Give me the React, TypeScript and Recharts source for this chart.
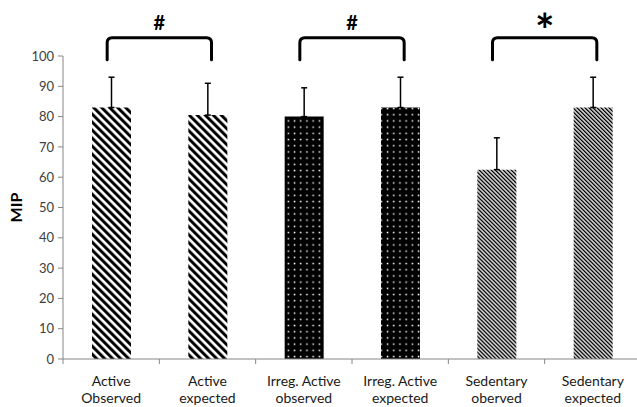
import React from "react";
import {
  Bar,
  BarChart,
  Cell,
  ErrorBar,
  ReferenceLine,
  XAxis,
  YAxis,
} from "recharts";

// values
const categories = [
  "Active\nObserved",
  "Active\nexpected",
  "Irreg. Active\nobserved",
  "Irreg. Active\nexpected",
  "Sedentary\noberved",
  "Sedentary\nexpected",
];
const mipMeans = [83, 80.5, 80, 83, 62.5, 83];
const mipSdUpper = [10, 10.5, 9.5, 10, 10.5, 10];
const yTicks = [0, 10, 20, 30, 40, 50, 60, 70, 80, 90, 100];

// significance brackets: pairs of category indexes and their mark
const bracketPairs = [
  [0, 1],
  [2, 3],
  [4, 5],
];
const bracketMarks = ["#", "#", "*"];
const bracketLevel = 106;

const barFills = [
  "url(#stripeWide)",
  "url(#stripeWide)",
  "url(#dots)",
  "url(#dots)",
  "url(#stripeFine)",
  "url(#stripeFine)",
];

const CHART_W = 642;
const CHART_H = 407;
const Y_AXIS_W = 63;
const MARGIN = { top: 56, right: 1, bottom: 0, left: 0 };
const AXIS_GREY = "#868686";
const FONT = "Lato, 'Open Sans', sans-serif";

const data = categories.map((name, i) => ({
  name,
  mip: mipMeans[i],
  err: [0, mipSdUpper[i]],
}));

const band = (CHART_W - MARGIN.left - MARGIN.right - Y_AXIS_W) / categories.length;

const CategoryTick = (props: any) => {
  const { x, y, payload, index } = props;
  const lines = String(payload.value).split("\n");
  const isLast = index === categories.length - 1;
  return (
    <g>
      <line x1={x - band / 2} x2={x - band / 2} y1={y} y2={y + 5} stroke={AXIS_GREY} />
      {isLast && (
        <line x1={x + band / 2} x2={x + band / 2} y1={y} y2={y + 5} stroke={AXIS_GREY} />
      )}
      <text
        x={x}
        y={y}
        textAnchor="middle"
        fontFamily={FONT}
        fontSize={14}
        fill="#1a1a1a"
      >
        <tspan x={x} dy={27}>
          {lines[0]}
        </tspan>
        <tspan x={x} dy={17}>
          {lines[1]}
        </tspan>
      </text>
    </g>
  );
};

const Bracket = (props: any) => {
  const { y1 } = props;
  const x1 = props.x1 - 4;
  const x2 = props.x2 + 4;
  const drop = 22;
  const r = 5;
  const d = `M${x1},${y1 + drop} L${x1},${y1 + r} Q${x1},${y1} ${x1 + r},${y1} L${x2 - r},${y1} Q${x2},${y1} ${x2},${y1 + r} L${x2},${y1 + drop}`;
  return <path d={d} fill="none" stroke="#000" strokeWidth={3} strokeLinecap="round" />;
};

const MipLabel = (props: any) => {
  const vb = props.viewBox || {};
  const cx = (vb.x ?? 0) + 15;
  const cy = (vb.y ?? 0) + (vb.height ?? 0) / 2;
  return (
    <text
      x={cx}
      y={cy}
      transform={`rotate(-90 ${cx} ${cy})`}
      textAnchor="middle"
      dominantBaseline="central"
      fontFamily={FONT}
      fontWeight="bold"
      fontSize={16}
      fill="#000"
    >
      MIP
    </text>
  );
};

export default function App() {
  return (
    <div style={{ width: 637, height: CHART_H, overflow: "hidden", background: "#fff" }}>
      <style>{"body{margin:0}"}</style>
      <svg width={0} height={0} style={{ position: "absolute" }}>
        <defs>
          <pattern
            id="stripeWide"
            patternUnits="userSpaceOnUse"
            width={5.66}
            height={5.66}
            patternTransform="rotate(-45)"
          >
            <rect width={5.66} height={5.66} fill="#fff" />
            <rect width={3} height={5.66} fill="#000" />
          </pattern>
          <pattern
            id="stripeFine"
            patternUnits="userSpaceOnUse"
            width={2.83}
            height={2.83}
            patternTransform="rotate(-45)"
          >
            <rect width={2.83} height={2.83} fill="#fff" />
            <rect width={1.45} height={2.83} fill="#000" />
          </pattern>
          <pattern id="dots" patternUnits="userSpaceOnUse" width={6.2} height={6.2}>
            <rect width={6.2} height={6.2} fill="#000" />
            <rect x={2.4} y={2.4} width={1.5} height={1.5} fill="#fff" />
          </pattern>
        </defs>
      </svg>
      <BarChart width={CHART_W} height={CHART_H} data={data} margin={MARGIN} barSize={39}>
        <XAxis
          dataKey="name"
          interval={0}
          height={48}
          axisLine={{ stroke: AXIS_GREY }}
          tickLine={false}
          tickSize={0}
          tickMargin={0}
          tick={<CategoryTick />}
        />
        <YAxis
          width={Y_AXIS_W}
          domain={[0, 100]}
          ticks={yTicks}
          interval={0}
          axisLine={{ stroke: AXIS_GREY }}
          tickLine={{ stroke: AXIS_GREY }}
          tickSize={5}
          tickMargin={4}
          tick={{ fontFamily: FONT, fontSize: 13, fill: "#404040" }}
          label={<MipLabel />}
        />
        <Bar dataKey="mip" isAnimationActive={false}>
          {data.map((d, i) => (
            <Cell key={d.name} fill={barFills[i]} />
          ))}
          <ErrorBar
            dataKey="err"
            direction="y"
            width={3}
            stroke="#000"
            strokeWidth={1.5}
            isAnimationActive={false}
          />
        </Bar>
        {bracketPairs.map(([a, b], i) => (
          <ReferenceLine
            key={i}
            ifOverflow="visible"
            segment={[
              { x: categories[a], y: bracketLevel },
              { x: categories[b], y: bracketLevel },
            ]}
            shape={<Bracket />}
            label={{
              value: bracketMarks[i],
              position: "top",
              offset: bracketMarks[i] === "*" ? -9 : 8,
              fill: "#000",
              fontSize: bracketMarks[i] === "*" ? 46 : 20,
              fontWeight: "bold",
              fontFamily: FONT,
            }}
          />
        ))}
      </BarChart>
    </div>
  );
}
